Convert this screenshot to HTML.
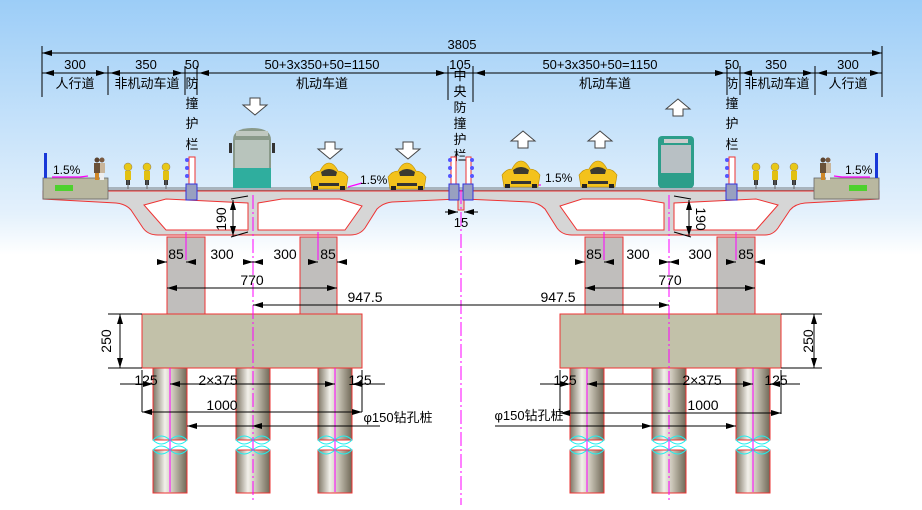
<!DOCTYPE html>
<html><head><meta charset="utf-8"><style>
html,body{margin:0;padding:0;width:922px;height:510px;overflow:hidden;background:#fff}
svg{display:block}
text{font-family:"Liberation Sans","Noto Sans CJK SC",sans-serif;fill:#000}
</style></head><body>
<svg width="922" height="510" viewBox="0 0 922 510" xmlns="http://www.w3.org/2000/svg">
<defs>
<linearGradient id="sky" x1="0" y1="0" x2="0" y2="1">
<stop offset="0" stop-color="#9ccdf7"/><stop offset="0.42" stop-color="#e4f1fc"/><stop offset="0.5" stop-color="#ffffff"/><stop offset="1" stop-color="#ffffff"/>
</linearGradient>
<linearGradient id="pile" x1="0" y1="0" x2="1" y2="0">
<stop offset="0" stop-color="#7d7564"/><stop offset="0.35" stop-color="#f2f0ea"/><stop offset="0.6" stop-color="#c9c4b6"/><stop offset="1" stop-color="#6f6856"/>
</linearGradient>
<marker id="ar" viewBox="0 0 10 6" refX="10" refY="3" markerWidth="10" markerHeight="6" orient="auto-start-reverse" markerUnits="userSpaceOnUse"><path d="M0,0L10,3L0,6Z" fill="#000"/></marker>
<g id="pileg">
<rect x="0" y="0" width="34" height="72" fill="url(#pile)" stroke="#e33" stroke-width="1"/>
<rect x="0" y="82" width="34" height="43" fill="url(#pile)" stroke="#e33" stroke-width="1"/>
<path d="M0,72 Q8,64 17,72 Q26,80 34,72 M0,72 Q8,80 17,72 Q26,64 34,72 M0,82 Q8,74 17,82 Q26,90 34,82 M0,82 Q8,90 17,82 Q26,74 34,82" fill="none" stroke="#2ee" stroke-width="1"/>
</g>
<g id="down"><path d="M-5,-8h10v7h7l-12,10l-12,-10h7z" fill="#fff" stroke="#444" stroke-width="1"/></g>
<g id="up"><path d="M-5,8h10v-7h7l-12,-10l-12,10h7z" fill="#fff" stroke="#444" stroke-width="1"/></g>
<g id="car">
<path d="M2,26 L0,14 Q4,8 10,8 Q14,0 19,0 Q24,0 28,8 Q34,8 38,14 L36,26Z" fill="#f3c21c" stroke="#b88800" stroke-width="0.6"/>
<path d="M11,9 Q19,3 27,9 L26,13 H12Z" fill="#3c3a30"/>
<rect x="9" y="20" width="20" height="3" fill="#333"/>
<rect x="3" y="23" width="5" height="4" fill="#222"/><rect x="30" y="23" width="5" height="4" fill="#222"/>
</g>
<g id="bike">
<circle cx="0" cy="4" r="4" fill="#e8c817" stroke="#876" stroke-width="0.5"/>
<rect x="-3" y="8" width="6" height="9" fill="#e2c010"/>
<rect x="-2" y="17" width="4" height="5" fill="#333"/>
<line x1="0" y1="17" x2="0" y2="26" stroke="#666" stroke-width="1"/>
</g>
<g id="person">
<circle cx="3" cy="3" r="2.5" fill="#5a4330"/><circle cx="8" cy="3" r="2.5" fill="#7a5a40"/>
<rect x="0" y="6" width="6" height="10" fill="#6a5138"/><rect x="6" y="6" width="5" height="10" fill="#c9b59a"/>
<rect x="1" y="16" width="4" height="7" fill="#d08828"/><rect x="6" y="16" width="4" height="7" fill="#eee"/>
</g>
</defs>
<rect width="922" height="510" fill="url(#sky)"/>

<!-- top dimension lines -->
<g stroke="#000" stroke-width="1" fill="none">
<line x1="42" y1="53" x2="882" y2="53" marker-start="url(#ar)" marker-end="url(#ar)"/>
<line x1="42" y1="46" x2="42" y2="97"/><line x1="882" y1="46" x2="882" y2="97"/>
<line x1="42" y1="73" x2="882" y2="73"/>
<line x1="108" y1="66" x2="108" y2="95"/><line x1="185" y1="66" x2="185" y2="95"/><line x1="197" y1="66" x2="197" y2="95"/>
<line x1="448" y1="66" x2="448" y2="100"/><line x1="473" y1="66" x2="473" y2="102"/>
<line x1="727" y1="66" x2="727" y2="95"/><line x1="740" y1="66" x2="740" y2="95"/><line x1="815" y1="66" x2="815" y2="95"/>
<line x1="44" y1="73" x2="66" y2="73" marker-start="url(#ar)"/><line x1="86" y1="73" x2="106" y2="73" marker-end="url(#ar)"/>
<line x1="110" y1="73" x2="125" y2="73" marker-start="url(#ar)"/><line x1="170" y1="73" x2="183" y2="73" marker-end="url(#ar)"/>
<line x1="199" y1="73" x2="215" y2="73" marker-start="url(#ar)"/><line x1="430" y1="73" x2="446" y2="73" marker-end="url(#ar)"/>
<line x1="475" y1="73" x2="490" y2="73" marker-start="url(#ar)"/><line x1="710" y1="73" x2="725" y2="73" marker-end="url(#ar)"/>
<line x1="742" y1="73" x2="755" y2="73" marker-start="url(#ar)"/><line x1="800" y1="73" x2="813" y2="73" marker-end="url(#ar)"/>
<line x1="817" y1="73" x2="830" y2="73" marker-start="url(#ar)"/><line x1="866" y1="73" x2="880" y2="73" marker-end="url(#ar)"/>
</g>
<g font-size="13" text-anchor="middle">
<text x="462" y="49">3805</text>
<text x="75" y="69">300</text><text x="146" y="69">350</text><text x="192" y="69">50</text>
<text x="322" y="69">50+3x350+50=1150</text><text x="460" y="69">105</text>
<text x="600" y="69">50+3x350+50=1150</text><text x="732" y="69">50</text><text x="776" y="69">350</text><text x="848" y="69">300</text>
<text x="75" y="88">人行道</text><text x="147" y="88">非机动车道</text><text x="322" y="88">机动车道</text>
<text x="605" y="88">机动车道</text><text x="777" y="88">非机动车道</text><text x="848" y="88">人行道</text>
<text x="192" y="88">防</text><text x="192" y="108">撞</text><text x="192" y="128">护</text><text x="192" y="149">栏</text>
<text x="732" y="88">防</text><text x="732" y="108">撞</text><text x="732" y="128">护</text><text x="732" y="149">栏</text>
<text x="460" y="80">中</text><text x="460" y="96">央</text><text x="460" y="112">防</text><text x="460" y="128">撞</text><text x="460" y="144">护</text><text x="460" y="160">栏</text>
</g>

<!-- deck -->
<g stroke="#e33" stroke-width="1">
<path d="M43,191 H879 V199 L805,203 Q795,204 790,210 L778,228 Q773,235 765,235 H572 Q562,235 557,228 L545,209 Q539,203 530,202 L464,199 V210 H458 V199 L392,202 Q383,203 377,209 L365,228 Q360,235 350,235 H158 Q148,235 143,228 L131,210 Q126,204 116,203 L43,199 Z" fill="#d6d6d6"/>
<path d="M144,205 L166,199 L248,203 V230 L166,230 Z" fill="#fff"/>
<path d="M258,203 L282,199 L340,199 L362,206 L345,230 H258 Z" fill="#fff"/>
<path d="M778,205 L756,199 L674,203 V230 L756,230 Z" fill="#fff"/>
<path d="M664,203 L640,199 L582,199 L560,206 L577,230 H664 Z" fill="#fff"/>
</g>
<g stroke="#555" stroke-width="0.8"><line x1="43" y1="188" x2="879" y2="188"/><line x1="43" y1="190" x2="879" y2="190"/></g>

<!-- sidewalks -->
<rect x="43" y="178" width="65" height="21" fill="#b9b8a0" stroke="#666" stroke-width="0.8"/>
<rect x="55" y="185" width="18" height="6" fill="#4ed12e"/>
<rect x="44" y="153" width="3" height="25" fill="#1838d8"/>
<rect x="814" y="178" width="65" height="21" fill="#b9b8a0" stroke="#666" stroke-width="0.8"/>
<rect x="849" y="185" width="18" height="6" fill="#4ed12e"/>
<rect x="875" y="153" width="3" height="25" fill="#1838d8"/>
<g stroke="#f0f" stroke-width="1.2" fill="none">
<path d="M52,177 H80 L88,176"/><path d="M870,177 H842 L834,176"/>
<path d="M348,187 L362,183"/><path d="M541,185 L528,185"/>
</g>
<g font-size="12"><text x="53" y="174">1.5%</text><text x="845" y="174">1.5%</text><text x="360" y="184">1.5%</text><text x="545" y="182">1.5%</text></g>

<use href="#person" x="94" y="157"/><use href="#person" x="820" y="157"/>
<use href="#bike" x="128" y="163"/><use href="#bike" x="147" y="163"/><use href="#bike" x="166" y="163"/>
<use href="#bike" x="756" y="163"/><use href="#bike" x="775" y="163"/><use href="#bike" x="794" y="163"/>

<!-- barriers -->
<g stroke-width="1">
<rect x="189" y="157" width="6" height="28" fill="#fff" stroke="#e33"/>
<rect x="186" y="184" width="11" height="16" fill="#98a0c0" stroke="#33d"/>
<rect x="729" y="157" width="6" height="28" fill="#fff" stroke="#e33"/>
<rect x="726" y="184" width="11" height="16" fill="#98a0c0" stroke="#33d"/>
<rect x="451" y="157" width="5" height="28" fill="#fff" stroke="#e33"/>
<rect x="466" y="157" width="5" height="28" fill="#fff" stroke="#e33"/>
<rect x="449" y="184" width="10" height="16" fill="#98a0c0" stroke="#33d"/>
<rect x="463" y="184" width="10" height="16" fill="#98a0c0" stroke="#33d"/>
</g>
<g fill="#55f"><circle cx="187" cy="160" r="2"/><circle cx="187" cy="168" r="2"/><circle cx="187" cy="176" r="2"/>
<circle cx="727" cy="160" r="2"/><circle cx="727" cy="168" r="2"/><circle cx="727" cy="176" r="2"/>
<circle cx="450" cy="160" r="2"/><circle cx="450" cy="168" r="2"/><circle cx="450" cy="176" r="2"/>
<circle cx="472" cy="160" r="2"/><circle cx="472" cy="168" r="2"/><circle cx="472" cy="176" r="2"/></g>

<!-- vehicles -->
<path d="M233,140 Q233,128 252,128 Q271,128 271,140 V188 H233Z" fill="#8a9a8a"/>
<rect x="236" y="131" width="32" height="5" fill="#c0c8c0"/>
<rect x="235" y="140" width="34" height="28" fill="#b8c4bc"/>
<rect x="233" y="168" width="38" height="20" fill="#2fae9e"/>
<rect x="229" y="143" width="3" height="10" fill="#333"/><rect x="272" y="143" width="3" height="10" fill="#333"/>
<rect x="658" y="136" width="36" height="52" rx="4" fill="#2c9e8a"/>
<rect x="661" y="145" width="30" height="28" fill="#b8c0c4"/>
<rect x="664" y="139" width="24" height="4" fill="#ccc"/>
<use href="#car" x="310" y="163"/><use href="#car" x="388" y="163"/>
<use href="#car" x="502" y="161"/><use href="#car" x="579" y="161"/>
<use href="#down" x="255" y="106"/><use href="#down" x="330" y="150"/><use href="#down" x="408" y="150"/>
<use href="#up" x="523" y="140"/><use href="#up" x="600" y="140"/><use href="#up" x="678" y="108"/>

<!-- piers -->
<g stroke="#e33" stroke-width="1">
<rect x="167" y="237" width="38" height="77" fill="#c0bebc"/>
<rect x="300" y="237" width="37" height="77" fill="#c0bebc"/>
<rect x="585" y="237" width="38" height="77" fill="#c0bebc"/>
<rect x="717" y="237" width="38" height="77" fill="#c0bebc"/>
<rect x="142" y="314" width="220" height="54" fill="#c2c1a9"/>
<rect x="560" y="314" width="221" height="54" fill="#c2c1a9"/>
</g>
<use href="#pileg" x="153" y="368"/><use href="#pileg" x="236" y="368"/><use href="#pileg" x="318" y="368"/>
<use href="#pileg" x="570" y="368"/><use href="#pileg" x="652" y="368"/><use href="#pileg" x="736" y="368"/>

<!-- centerlines -->
<g stroke="#f0f" stroke-width="1">
<line x1="461" y1="190" x2="461" y2="505" stroke-dasharray="14,3,2,3"/>
<line x1="253" y1="195" x2="253" y2="500" stroke-dasharray="14,3,2,3"/>
<line x1="669" y1="195" x2="669" y2="500" stroke-dasharray="14,3,2,3"/>
<line x1="186" y1="232" x2="186" y2="260"/><line x1="318" y1="232" x2="318" y2="260"/>
<line x1="604" y1="232" x2="604" y2="260"/><line x1="736" y1="232" x2="736" y2="260"/>
<line x1="170" y1="368" x2="170" y2="492"/><line x1="335" y1="368" x2="335" y2="492"/>
<line x1="587" y1="368" x2="587" y2="492"/><line x1="753" y1="368" x2="753" y2="492"/>
</g>

<!-- lower dims -->
<g stroke="#000" stroke-width="1" fill="none">
<line x1="231" y1="199" x2="248" y2="196"/><line x1="231" y1="237" x2="248" y2="232"/>
<line x1="233" y1="200" x2="233" y2="236" marker-start="url(#ar)" marker-end="url(#ar)"/>
<line x1="691" y1="199" x2="674" y2="196"/><line x1="691" y1="237" x2="674" y2="232"/>
<line x1="689" y1="200" x2="689" y2="236" marker-start="url(#ar)" marker-end="url(#ar)"/>
<line x1="445" y1="212" x2="458" y2="212" marker-end="url(#ar)"/><line x1="478" y1="212" x2="464" y2="212" marker-end="url(#ar)"/>
<line x1="157" y1="262" x2="167" y2="262" marker-end="url(#ar)"/><line x1="196" y1="262" x2="186" y2="262" marker-end="url(#ar)"/>
<line x1="308" y1="262" x2="318" y2="262" marker-end="url(#ar)"/><line x1="347" y1="262" x2="337" y2="262" marker-end="url(#ar)"/>
<line x1="575" y1="262" x2="585" y2="262" marker-end="url(#ar)"/><line x1="614" y1="262" x2="604" y2="262" marker-end="url(#ar)"/>
<line x1="726" y1="262" x2="736" y2="262" marker-end="url(#ar)"/><line x1="765" y1="262" x2="755" y2="262" marker-end="url(#ar)"/>
<line x1="243" y1="262" x2="253" y2="262" marker-end="url(#ar)"/><line x1="263" y1="262" x2="253" y2="262" marker-end="url(#ar)"/>
<line x1="659" y1="262" x2="669" y2="262" marker-end="url(#ar)"/><line x1="679" y1="262" x2="669" y2="262" marker-end="url(#ar)"/>
<line x1="167" y1="288" x2="337" y2="288" marker-start="url(#ar)" marker-end="url(#ar)"/>
<line x1="585" y1="288" x2="755" y2="288" marker-start="url(#ar)" marker-end="url(#ar)"/>
<line x1="253" y1="305" x2="461" y2="305" marker-start="url(#ar)"/>
<line x1="461" y1="305" x2="669" y2="305" marker-end="url(#ar)"/>
<line x1="108" y1="314" x2="142" y2="314"/><line x1="108" y1="368" x2="142" y2="368"/>
<line x1="120" y1="314" x2="120" y2="368" marker-start="url(#ar)" marker-end="url(#ar)"/>
<line x1="781" y1="314" x2="822" y2="314"/><line x1="781" y1="368" x2="822" y2="368"/>
<line x1="814" y1="314" x2="814" y2="368" marker-start="url(#ar)" marker-end="url(#ar)"/>
<line x1="120" y1="384" x2="153" y2="384" marker-end="url(#ar)"/><line x1="183" y1="384" x2="170" y2="384" marker-end="url(#ar)"/>
<line x1="170" y1="384" x2="335" y2="384"/><line x1="322" y1="384" x2="335" y2="384" marker-end="url(#ar)"/>
<line x1="385" y1="384" x2="352" y2="384" marker-end="url(#ar)"/>
<line x1="142" y1="370" x2="142" y2="412"/><line x1="362" y1="370" x2="362" y2="412"/>
<line x1="142" y1="412" x2="362" y2="412" marker-start="url(#ar)" marker-end="url(#ar)"/>
<line x1="187" y1="426" x2="380" y2="426" marker-start="url(#ar)"/>
<line x1="270" y1="426" x2="252" y2="426" marker-end="url(#ar)"/>
<line x1="540" y1="384" x2="570" y2="384" marker-end="url(#ar)"/><line x1="600" y1="384" x2="587" y2="384" marker-end="url(#ar)"/>
<line x1="587" y1="384" x2="753" y2="384"/><line x1="740" y1="384" x2="753" y2="384" marker-end="url(#ar)"/>
<line x1="800" y1="384" x2="770" y2="384" marker-end="url(#ar)"/>
<line x1="560" y1="370" x2="560" y2="414"/><line x1="781" y1="370" x2="781" y2="414"/>
<line x1="560" y1="413" x2="781" y2="413" marker-start="url(#ar)" marker-end="url(#ar)"/>
<line x1="495" y1="426" x2="736" y2="426" marker-end="url(#ar)"/>
<line x1="640" y1="426" x2="652" y2="426" marker-end="url(#ar)"/>
</g>
<g font-size="14" text-anchor="middle">
<text x="230" y="219" transform="rotate(-90 230 219)" dy="-4">190</text>
<text x="692" y="219" transform="rotate(90 692 219)" dy="-4">190</text>
<text x="461" y="227" font-size="13">15</text>
<text x="176" y="259">85</text><text x="222" y="259">300</text><text x="285" y="259">300</text><text x="328" y="259">85</text>
<text x="594" y="259">85</text><text x="638" y="259">300</text><text x="700" y="259">300</text><text x="746" y="259">85</text>
<text x="252" y="285">770</text><text x="670" y="285">770</text>
<text x="365" y="302">947.5</text><text x="558" y="302">947.5</text>
<text x="106" y="341" transform="rotate(-90 106 341)" dy="5">250</text>
<text x="808" y="341" transform="rotate(-90 808 341)" dy="5">250</text>
<text x="146" y="385">125</text><text x="218" y="385">2×375</text><text x="360" y="385">125</text>
<text x="565" y="385">125</text><text x="702" y="385">2×375</text><text x="776" y="385">125</text>
<text x="222" y="410">1000</text><text x="703" y="410">1000</text>
<text x="398" y="422" font-size="13">φ150钻孔桩</text><text x="529" y="420" font-size="13">φ150钻孔桩</text>
</g>
</svg>
</body></html>
